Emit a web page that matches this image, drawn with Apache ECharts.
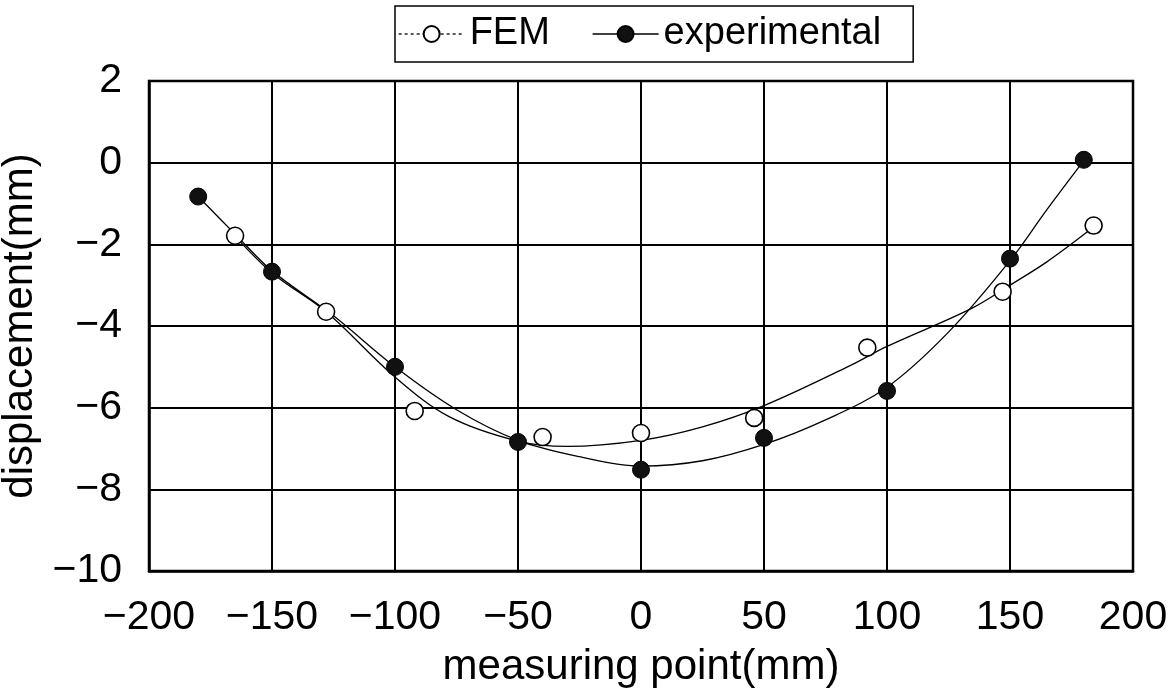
<!DOCTYPE html>
<html>
<head>
<meta charset="utf-8">
<title>Displacement vs measuring point</title>
<script src="https://cdn.jsdelivr.net/npm/echarts@6/dist/echarts.min.js"></script>
<style>
  html, body { margin: 0; padding: 0; background: #fff; }
  #chart { width: 1173px; height: 696px; }
</style>
</head>
<body>
<div id="chart"></div>
<script>
// Measured points
const femX = [-165, -128, -92, -40, 0, 46, 92, 147, 184];
const femY = [-1.79, -3.65, -6.08, -6.72, -6.62, -6.25, -4.53, -3.16, -1.54];
const expX = [-180, -150, -100, -50, 0, 50, 100, 150, 180];
const expY = [-0.83, -2.67, -5.0, -6.84, -7.52, -6.74, -5.59, -2.35, 0.07];

// Trend curves through each data set
const femFitX = [-165, -150, -128, -100, -78, -50, -30, 0, 25, 50, 85, 100, 134, 150, 165, 182];
const femFitY = [-1.8, -2.7, -3.65, -5.25, -6.22, -6.82, -6.95, -6.8, -6.47, -5.95, -4.97, -4.5, -3.58, -3.0, -2.43, -1.67];
const expFitX = [-180, -165, -150, -125, -100, -75, -50, -25, 0, 25, 50, 75, 100, 125, 150, 165, 180];
const expFitY = [-0.83, -1.75, -2.65, -3.75, -5.0, -6.05, -6.8, -7.2, -7.43, -7.3, -6.9, -6.3, -5.5, -4.15, -2.4, -1.15, 0.05];

// Axis ranges
const xRange = { min: -200, max: 200, step: 50 };
const yRange = { min: -10, max: 2, step: 2 };

const pairs = (xs, ys) => xs.map((x, i) => [x, ys[i]]);
const minusSign = v => String(v).replace('-', '\u2212');
const FONT = '"Liberation Sans", Arial, sans-serif';

const chart = echarts.init(document.getElementById('chart'), null, { renderer: 'canvas' });

chart.setOption({
  animation: false,
  backgroundColor: '#fff',
  textStyle: { fontFamily: FONT, color: '#000' },
  grid: {
    left: 149, right: 40, top: 81, bottom: 125,
    containLabel: false,
    outerBoundsMode: 'none',
    show: true, borderColor: '#000', borderWidth: 2.5, backgroundColor: 'transparent'
  },
  legend: {
    left: 395, top: 6,
    orient: 'horizontal',
    padding: [9, 32, 9, 3],
    itemGap: 42,
    itemWidth: 66,
    itemHeight: 20,
    borderColor: '#000',
    borderWidth: 1.5,
    textStyle: { fontFamily: FONT, fontSize: 38, color: '#000' },
    data: [
      { name: 'FEM', lineStyle: { color: '#000', width: 1.3, type: [3, 3], opacity: 1 } },
      { name: 'experimental', lineStyle: { color: '#000', width: 1.5, type: 'solid', opacity: 1 } }
    ]
  },
  xAxis: {
    type: 'value',
    min: xRange.min, max: xRange.max, interval: xRange.step,
    name: 'measuring point(mm)',
    nameLocation: 'middle',
    nameGap: 75,
    nameTextStyle: { fontFamily: FONT, fontSize: 42, color: '#000' },
    axisLine: { show: true, onZero: false, lineStyle: { color: '#000', width: 2.5 } },
    axisTick: { show: false },
    axisLabel: { fontFamily: FONT, fontSize: 41, color: '#000', margin: 26, formatter: minusSign },
    splitLine: { show: true, lineStyle: { color: '#000', width: 2 } }
  },
  yAxis: {
    type: 'value',
    min: yRange.min, max: yRange.max, interval: yRange.step,
    name: 'displacement(mm)',
    nameLocation: 'middle',
    nameGap: 91,
    nameTextStyle: { fontFamily: FONT, fontSize: 42, color: '#000' },
    axisLine: { show: true, onZero: false, lineStyle: { color: '#000', width: 2.5 } },
    axisTick: { show: false },
    axisLabel: { fontFamily: FONT, fontSize: 41, color: '#000', margin: 27, formatter: minusSign },
    splitLine: { show: true, lineStyle: { color: '#000', width: 2 } }
  },
  series: [
    {
      name: 'FEM trend', type: 'line', data: pairs(femFitX, femFitY),
      smooth: 0.35, showSymbol: false, symbol: 'none', silent: true,
      lineStyle: { color: '#000', width: 1.3 }, z: 2
    },
    {
      name: 'experimental trend', type: 'line', data: pairs(expFitX, expFitY),
      smooth: 0.35, showSymbol: false, symbol: 'none', silent: true,
      lineStyle: { color: '#000', width: 1.3 }, z: 2
    },
    {
      name: 'FEM', type: 'line', data: pairs(femX, femY),
      symbol: 'circle', symbolSize: 17, showAllSymbol: true,
      itemStyle: { color: '#fff', borderColor: '#000', borderWidth: 1.6 },
      lineStyle: { opacity: 0, width: 0 }, z: 4
    },
    {
      name: 'experimental', type: 'line', data: pairs(expX, expY),
      symbol: 'circle', symbolSize: 17, showAllSymbol: true,
      itemStyle: { color: '#111', borderColor: '#000', borderWidth: 1 },
      lineStyle: { opacity: 0, width: 0 }, z: 5
    }
  ]
});
</script>
</body>
</html>
